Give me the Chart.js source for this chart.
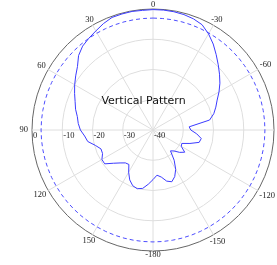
<!DOCTYPE html>
<html>
<head>
<meta charset="utf-8">
<script src="https://cdn.jsdelivr.net/npm/chart.js"></script>
<style>
html, body { margin: 0; padding: 0; background: #fff; overflow: hidden; }
#caixa { width: 277px; height: 265px; position: relative; }
</style>
</head>
<body>
<div id="caixa"><canvas id="grafico"></canvas></div>
<script>
// angulos a cada 5 graus, no sentido horario a partir do topo
const angulos = [0, -5, -10, -15, -20, -25, -30, -35, -40, -45, -50, -55, -60, -65, -70, -75, -80, -85,
  -90, -95, -100, -105, -110, -115, -120, -125, -130, -135, -140, -145, -150, -155, -160, -165, -170, -175,
  -180, 175, 170, 165, 160, 155, 150, 145, 140, 135, 130, 125, 120, 115, 110, 105, 100, 95,
  90, 85, 80, 75, 70, 65, 60, 55, 50, 45, 40, 35, 30, 25, 20, 15, 10, 5];
// ganho em dB
const padrao = [-0.2, -0.2, -0.3, -0.5, -0.9, -1.6, -3.3, -5.3, -7.5, -9.5, -11.3, -13.0, -14.8, -16.6, -17.9, -19.2, -21.0, -28.0,
  -27.5, -25.5, -23.8, -24.2, -27.0, -29.5, -29.2, -27.2, -28.5, -30.2, -31.0, -27.8, -25.0, -23.0, -21.8, -22.5, -24.2, -25.0,
  -23.6, -22.0, -20.4, -19.9, -20.4, -21.8, -23.9, -26.1, -25.8, -24.6, -22.9, -20.5, -20.5, -21.6, -21.7, -20.3, -18.1, -17.3,
  -16.0, -15.2, -14.6, -13.5, -12.6, -11.4, -10.1, -8.8, -7.4, -5.2, -3.8, -3.0, -2.2, -1.2, -0.4, -0.3, -0.2, -0.3];
const nivelRef = -3;
const ticksRaio = [0, -10, -20, -30, -40];

const textos = {
  id: 'textos',
  afterDraw(chart) {
    const r = chart.scales.r;
    const ctx = chart.ctx;
    ctx.save();
    ctx.fillStyle = '#222';
    ctx.font = '8.5px "Liberation Serif", serif';
    ctx.textAlign = 'center';
    ctx.textBaseline = 'middle';
    angulos.forEach((a, i) => {
      if (a % 30 !== 0) return;
      const txt = String(a);
      const w = ctx.measureText(txt).width;
      const d = r.drawingArea + 4 + Math.abs(Math.sin(r.getIndexAngle(i))) * w / 2;
      const p = r.getPointPosition(i, d);
      ctx.fillText(txt, p.x, p.y);
    });
    ctx.textAlign = 'left';
    ctx.textBaseline = 'top';
    ticksRaio.forEach(v => {
      const d = r.getDistanceFromCenterForValue(v);
      ctx.fillText(String(v), r.xCenter - d + 1, r.yCenter + 2);
    });
    ctx.font = '11px "DejaVu Sans", sans-serif';
    ctx.fillStyle = '#111';
    ctx.textAlign = 'center';
    ctx.textBaseline = 'alphabetic';
    ctx.fillText('Vertical Pattern', r.xCenter - 9.5, r.yCenter - 26.5);
    ctx.restore();
  }
};

const ctx = document.getElementById('grafico').getContext('2d');
new Chart(ctx, {
  type: 'radar',
  data: {
    labels: angulos.map(String),
    datasets: [{
      data: padrao,
      borderColor: '#3b3bff',
      borderWidth: 1,
      pointRadius: 0,
      fill: false,
      tension: 0
    }, {
      data: Array(angulos.length).fill(nivelRef),
      borderColor: '#4d4dff',
      borderWidth: 1,
      borderDash: [4, 3],
      pointRadius: 0,
      fill: false
    }]
  },
  options: {
    responsive: true,
    maintainAspectRatio: false,
    animation: false,
    layout: { padding: { left: 32, right: 3, top: 9, bottom: 14 } },
    plugins: { legend: { display: false }, tooltip: { enabled: false } },
    scales: {
      r: {
        min: -40,
        max: 0,
        ticks: { display: false, stepSize: 10 },
        pointLabels: { display: false },
        grid: {
          circular: true,
          color: c => (c.tick && c.tick.value === 0) ? '#666' : '#dedede',
          lineWidth: 1
        },
        angleLines: {
          color: '#dedede',
          lineWidth: c => (angulos[c.index] % 30 === 0) ? 1 : 0
        }
      }
    }
  },
  plugins: [textos]
});
</script>
</body>
</html>
